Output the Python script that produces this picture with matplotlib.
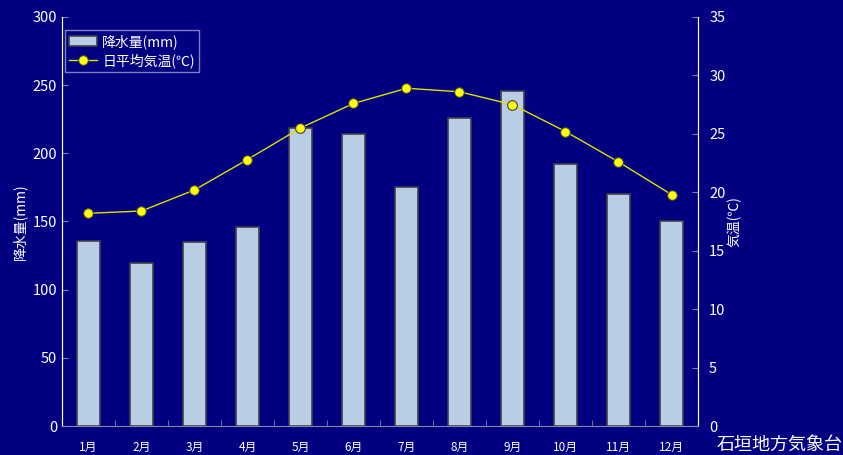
import matplotlib
matplotlib.use('Agg')
import matplotlib.pyplot as plt
import numpy as np

plt.rcParams['font.family'] = ['Noto Sans CJK JP', 'DejaVu Sans']

months = ['1月', '2月', '3月', '4月', '5月', '6月', '7月', '8月', '9月', '10月', '11月', '12月']
rain = [135.9, 119.9, 134.6, 146.0, 218.6, 214.0, 175.0, 225.8, 246.0, 192.5, 169.8, 150.0]
temp = [18.2, 18.4, 20.2, 22.8, 25.5, 27.6, 28.9, 28.6, 27.5, 25.2, 22.6, 19.8]

navy = '#000080'
fig = plt.figure(figsize=(8.43, 4.55), dpi=100, facecolor=navy)
ax = fig.add_axes([0.0735, 0.0637, 0.7545, 0.899])
ax.set_facecolor(navy)
x = np.arange(len(months))
ax.bar(x, rain, width=0.42, color='#B9CDE5', edgecolor='#404048', linewidth=1.2,
       label='降水量(mm)', zorder=2)
ax.set_xlim(-0.5, 11.5)
ax.set_ylim(0, 300)
ax.set_yticks(range(0, 301, 50))
ax.set_xticks(x)
ax.set_xticklabels(months)
ax.set_xticks(np.arange(0.5, 11, 1), minor=True)
ax.tick_params(axis='x', which='major', length=0, colors='white', labelsize=8.5, pad=11)
ax.tick_params(axis='x', which='minor', length=4, direction='in', color='#8080a0')
ax.tick_params(axis='y', direction='in', length=4, color='#8080a0', labelcolor='white', labelsize=10.5)
ax.set_ylabel('降水量(mm)', color='white', fontsize=10, labelpad=4)
for s in ['left', 'right', 'top']:
    ax.spines[s].set_color('white')
ax.spines['top'].set_visible(False)
ax.spines['bottom'].set_color('#8080a0')

ax2 = ax.twinx()
ax2.plot(x, temp, color='#E0E000', linewidth=1, marker='o', markersize=7,
         markerfacecolor='yellow', markeredgecolor='#404040', markeredgewidth=0.8,
         label='日平均気温(℃)', zorder=3)
ax2.set_ylim(0, 35)
ax2.set_yticks(range(0, 36, 5))
ax2.tick_params(axis='y', direction='in', length=4, color='#8080a0', labelcolor='white', labelsize=10.5, pad=8)
ax2.set_ylabel('気温(℃)', color='white', fontsize=10, rotation=90, labelpad=1)
ax2.spines['right'].set_color('white')
ax2.spines['left'].set_color('white')
ax2.spines['top'].set_visible(False)
ax2.spines['bottom'].set_color('#8080a0')

h1, l1 = ax.get_legend_handles_labels()
h2, l2 = ax2.get_legend_handles_labels()
leg = ax2.legend(h1 + h2, l1 + l2, loc='upper left', bbox_to_anchor=(0.0, 0.975),
                 frameon=True, fancybox=False, facecolor=navy, edgecolor='#a0a0d0',
                 fontsize=10, labelcolor='white', borderpad=0.3, handlelength=2.0,
                 handletextpad=0.4, labelspacing=0.3, borderaxespad=0.2)
leg.get_frame().set_linewidth(1)

fig.text(0.999, 0.002, '石垣地方気象台', color='white', fontsize=13, ha='right', va='bottom')

fig.savefig('out.png', dpi=100, facecolor=navy)
